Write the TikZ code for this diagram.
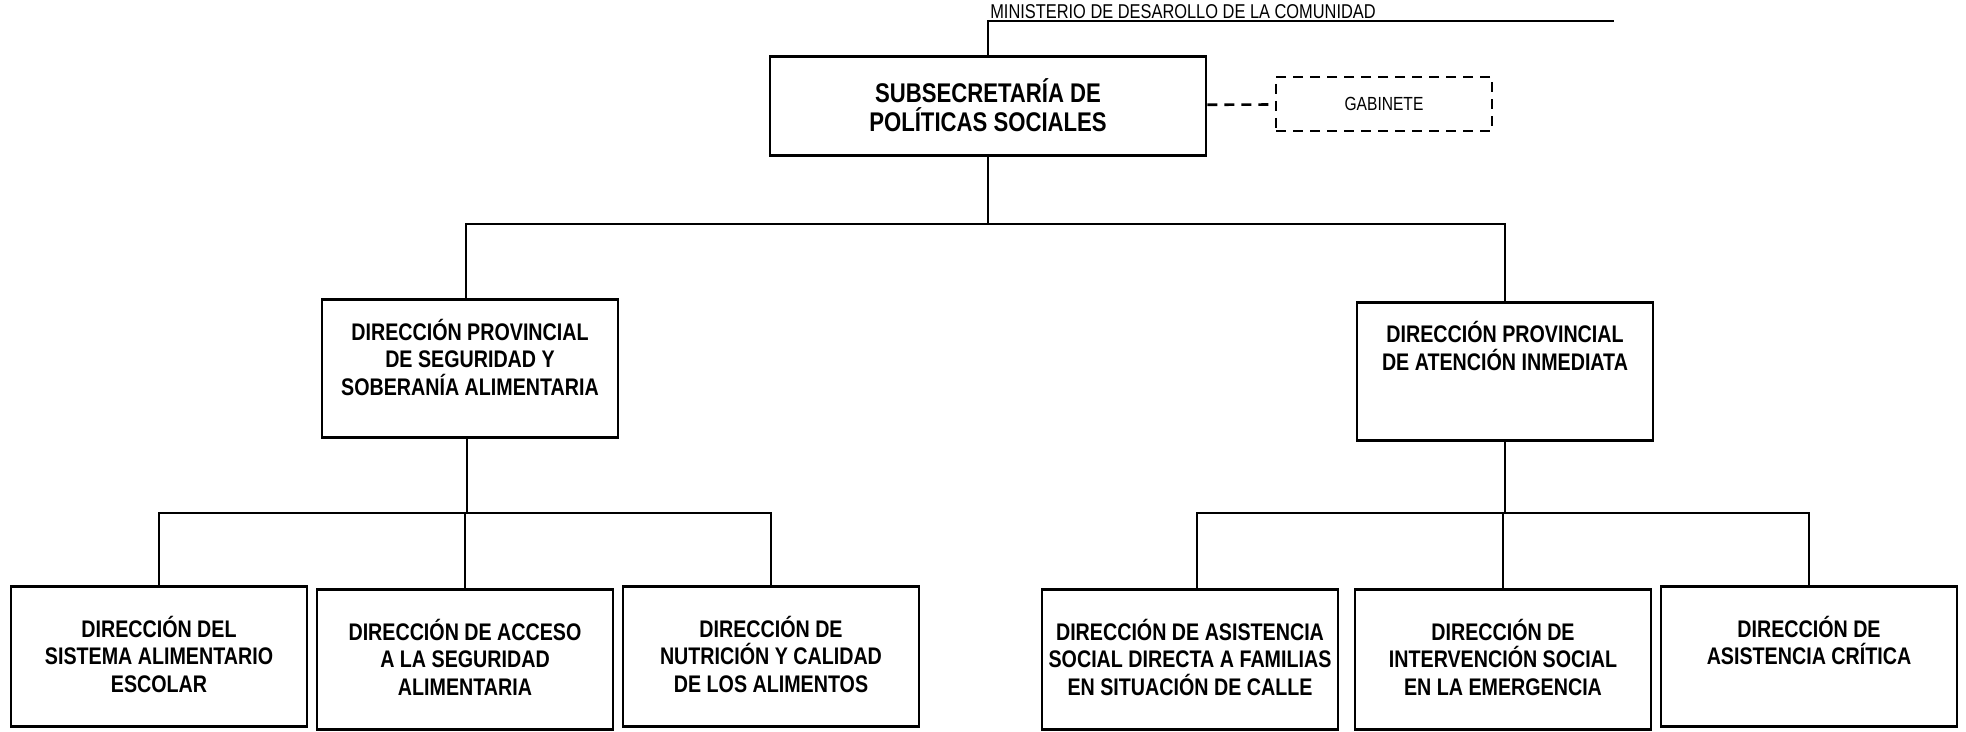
\documentclass[tikz,border=0pt]{standalone}
\usepackage{fontspec}
\setmainfont{Liberation Sans}[FakeStretch=0.82]
\usetikzlibrary{arrows}

\begin{document}
\begin{tikzpicture}[x=0.5pt,y=-0.5pt,line width=1.3pt,
                main node/.style={rectangle,draw,inner sep=0pt,minimum width=148pt,anchor=north,
                  align=center,font=\fontsize{12}{13.75}\selectfont\bfseries},
                low node/.style={main node,text height=53pt,text depth=17pt},
                top node/.style={main node,text height=48pt,text depth=21pt}]
  \useasboundingbox (0,0) rectangle (1966,732);
  \node[anchor=base west,inner sep=0pt,font=\fontsize{10}{12}\selectfont] (0) at (989,19)
    {MINISTERIO DE DESAROLLO DE LA COMUNIDAD};
  \coordinate (m) at (1614,21);
  \node[main node,minimum width=218pt,text height=37.5pt,text depth=12pt,
    font=\fontsize{13.5}{14.5}\selectfont\bfseries] (1) at (988,55) {SUBSECRETARÍA DE\\POLÍTICAS SOCIALES};
  \node[draw,dash pattern=on 5pt off 3.5pt,minimum width=108pt,minimum height=27pt,inner sep=0pt,
    font=\fontsize{9.5}{11}\selectfont] (2) at (1384,104) {GABINETE};

  \node[top node] (3) at (470,298) {DIRECCIÓN PROVINCIAL\\DE SEGURIDAD Y\\SOBERANÍA ALIMENTARIA};
  \node[top node,text height=34pt,text depth=35pt] (4) at (1505,301) {DIRECCIÓN PROVINCIAL\\DE ATENCIÓN INMEDIATA};

  \node[low node] (5) at (159,585) {DIRECCIÓN DEL\\SISTEMA ALIMENTARIO\\ESCOLAR};
  \node[low node] (6) at (465,588) {DIRECCIÓN DE ACCESO\\A LA SEGURIDAD\\ALIMENTARIA};
  \node[low node] (7) at (771,585) {DIRECCIÓN DE\\NUTRICIÓN Y CALIDAD\\DE LOS ALIMENTOS};
  \node[low node] (8) at (1190,588) {DIRECCIÓN DE ASISTENCIA\\SOCIAL DIRECTA A FAMILIAS\\EN SITUACIÓN DE CALLE};
  \node[low node] (9) at (1503,588) {DIRECCIÓN DE\\INTERVENCIÓN SOCIAL\\EN LA EMERGENCIA};
  \node[low node,text height=39.25pt,text depth=30.75pt] (10) at (1809,585) {DIRECCIÓN DE\\ASISTENCIA CRÍTICA};

  \coordinate (a) at (988,224);
  \coordinate (b) at (467,513);
  \coordinate (c) at (1505,513);

  \draw (1) |- (m);
  \draw[dash pattern=on 5pt off 3.5pt] (1) -- (2);
  \draw (1) -- (a) -| ([xshift=-2pt]3.north) (a) -| (4);
  \draw ([xshift=-1.5pt]3.south) -- (b) -| (5) (b) -| (6) (b) -| (7);
  \draw (4) -- (c) -| ([xshift=3.5pt]8.north) (c) -| (9) (c) -| (10);
\end{tikzpicture}
\end{document}
